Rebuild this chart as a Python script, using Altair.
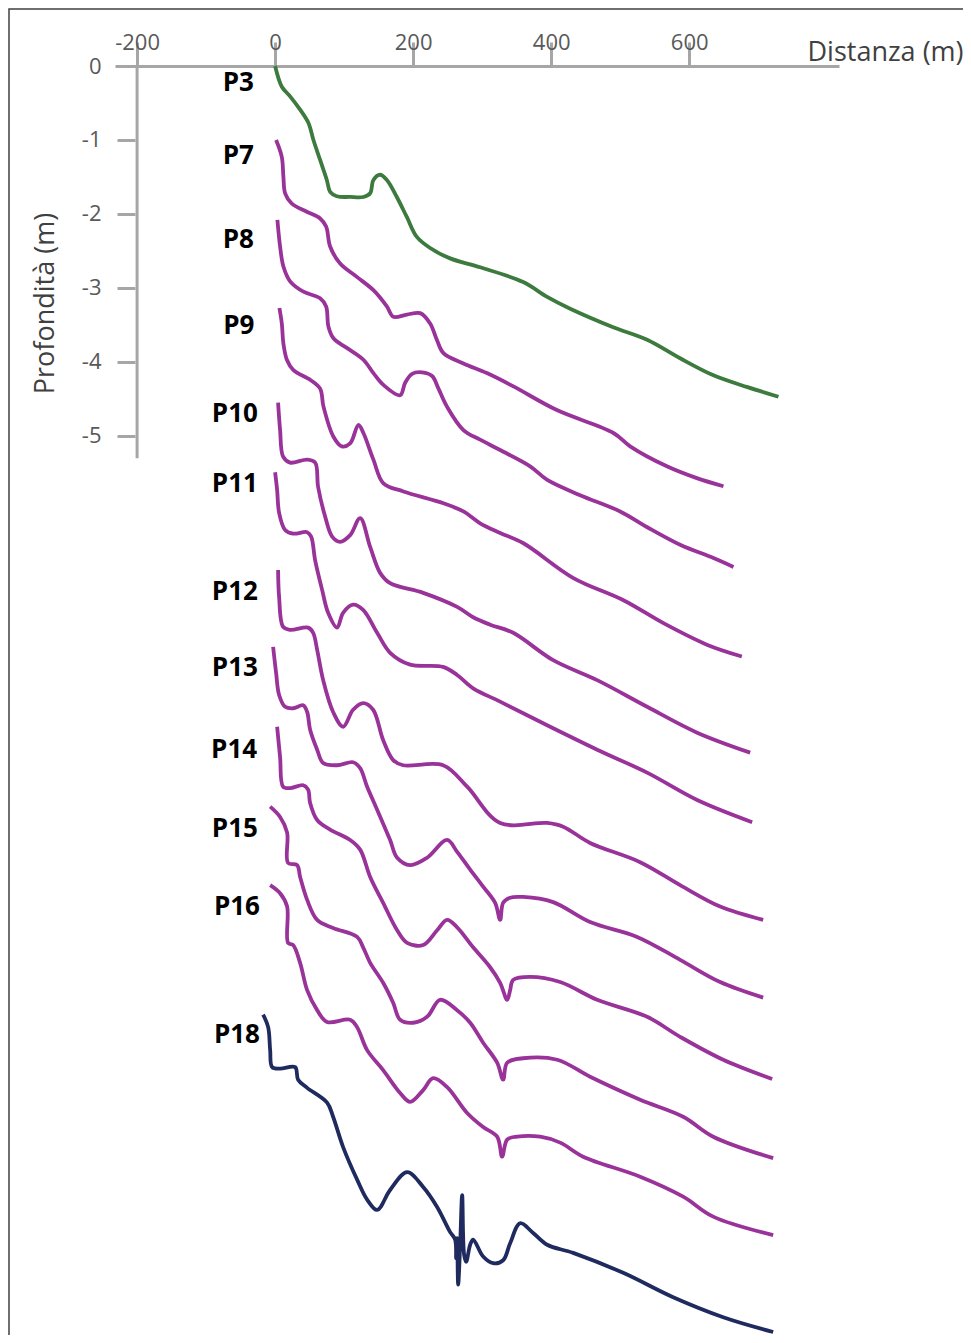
import altair as alt
import pandas as pd

# ---------------- data (distance in m, depth in m) ----------------
P3_x = [0, 9.7, 21.7, 36.2, 48.3, 55.5, 65.2, 74.9, 79.7, 89.4, 108.7, 127.9, 137.7, 142.4, 152.1, 161.9,
        176.3, 190.8, 205.3, 224.6, 253.6, 297.0, 359.4, 394.1, 427.5, 489.8, 539.0, 586.8, 635.1, 684.4, 729.3]
P3_d = [0, -0.28, -0.41, -0.59, -0.77, -1.00, -1.27, -1.54, -1.70, -1.76, -1.77, -1.77, -1.72, -1.54, -1.47, -1.54,
        -1.77, -2.04, -2.31, -2.46, -2.60, -2.72, -2.92, -3.12, -3.28, -3.53, -3.70, -3.95, -4.18, -4.34, -4.47]

P7_x = [1.4, 9.7, 12.0, 14.5, 24.2, 45.9, 65.2, 73.9, 79.7, 94.2, 118.4, 142.4, 161.9, 171.4, 190.8, 210.1,
        224.6, 234.3, 243.9, 272.8, 306.8, 345.3, 408.2, 490.2, 514.4, 567.6, 611.0, 649.6]
P7_d = [-1.00, -1.23, -1.50, -1.72, -1.86, -1.97, -2.06, -2.17, -2.44, -2.67, -2.85, -3.03, -3.25, -3.39, -3.36, -3.34,
        -3.48, -3.70, -3.88, -4.02, -4.15, -4.33, -4.65, -4.96, -5.14, -5.41, -5.57, -5.68]

P8_x = [3.3, 7.2, 12.0, 21.7, 41.0, 65.2, 73.9, 77.2, 84.5, 103.9, 127.9, 142.4, 156.9, 181.1, 188.4, 198.5,
        213.0, 227.5, 236.2, 248.8, 272.8, 297.0, 326.0, 369.5, 393.7, 441.9, 499.9, 538.6, 586.8, 635.1, 664.1]
P8_d = [-2.08, -2.44, -2.71, -2.91, -3.05, -3.14, -3.25, -3.52, -3.68, -3.81, -3.97, -4.15, -4.31, -4.45, -4.28, -4.16,
        -4.14, -4.19, -4.35, -4.60, -4.92, -5.05, -5.19, -5.41, -5.59, -5.80, -6.02, -6.23, -6.47, -6.65, -6.77]

P9_x = [6.2, 9.7, 12.0, 17.0, 26.5, 50.7, 65.2, 70.0, 84.5, 96.6, 108.7, 120.7, 127.9, 142.4, 156.9, 185.9,
        243.9, 272.8, 297.0, 326.0, 359.8, 432.2, 504.7, 562.6, 625.5, 676.2]
P9_d = [-3.27, -3.48, -3.75, -3.97, -4.11, -4.24, -4.36, -4.60, -5.01, -5.14, -5.10, -4.85, -4.96, -5.32, -5.64, -5.75,
        -5.91, -6.02, -6.18, -6.31, -6.45, -6.92, -7.22, -7.53, -7.82, -7.98]

P10_x = [4.3, 7.2, 11.6, 21.7, 46.4, 58.0, 62.3, 72.5, 82.6, 94.2, 108.7, 123.2, 137.7, 152.1, 166.6, 214.5,
         263.7, 286.9, 311.5, 344.9, 402.8, 466.6, 539.0, 611.5, 688.3]
P10_d = [-4.55, -4.92, -5.28, -5.36, -5.32, -5.36, -5.69, -6.09, -6.36, -6.43, -6.34, -6.11, -6.50, -6.85, -6.99, -7.12,
         -7.31, -7.45, -7.55, -7.66, -8.03, -8.30, -8.66, -9.01, -9.28]

P11_x = [0, 2.9, 5.8, 14.5, 26.1, 46.4, 52.2, 58.0, 68.1, 76.8, 89.8, 98.5, 113.0, 127.5, 147.8, 166.6,
         195.6, 243.4, 263.7, 286.9, 326.0, 394.1, 466.6, 539.0, 611.5, 691.2]
P11_d = [-5.49, -5.73, -6.04, -6.27, -6.32, -6.30, -6.36, -6.68, -7.08, -7.39, -7.59, -7.39, -7.28, -7.35, -7.66, -7.93,
         -8.09, -8.12, -8.23, -8.41, -8.59, -8.91, -9.24, -9.55, -9.92, -10.22]

P12_x = [4.3, 5.8, 11.6, 21.7, 47.8, 55.1, 60.9, 69.6, 84.0, 98.5, 113.0, 127.5, 142.0, 156.5, 171.0, 185.5,
         243.4, 278.2, 326.0, 394.1, 417.3, 456.4, 528.9, 586.8, 644.8, 707.1]
P12_d = [-6.81, -7.18, -7.58, -7.62, -7.59, -7.66, -7.89, -8.30, -8.73, -8.93, -8.70, -8.61, -8.70, -9.11, -9.38, -9.45,
         -9.45, -9.74, -10.23, -10.23, -10.28, -10.50, -10.76, -11.07, -11.36, -11.54]

P13_x = [-2.9, 1.4, 5.8, 14.5, 26.1, 40.6, 46.4, 50.7, 60.9, 69.6, 89.8, 113.0, 123.2, 133.3, 147.8, 166.6,
         176.8, 195.6, 220.2, 249.2, 263.7, 282.6, 301.4, 318.8, 326.0, 330.4, 340.5, 359.4, 402.8, 456.4,
         524.5, 586.8, 644.8, 707.1]
P13_d = [-7.85, -8.20, -8.50, -8.66, -8.68, -8.64, -8.73, -8.97, -9.24, -9.42, -9.45, -9.41, -9.49, -9.74, -10.05, -10.46,
         -10.70, -10.80, -10.70, -10.46, -10.62, -10.86, -11.09, -11.31, -11.54, -11.31, -11.24, -11.23, -11.30, -11.57,
         -11.77, -12.08, -12.38, -12.59]

P14_x = [2.9, 7.2, 11.6, 21.7, 40.6, 47.8, 50.7, 60.9, 79.7, 108.7, 123.2, 137.7, 156.5, 176.8, 191.3, 214.5,
         234.7, 249.2, 263.7, 286.9, 311.5, 326.0, 336.2, 340.5, 344.9, 369.5, 413.0, 466.6, 539.0, 586.8,
         649.2, 720.2]
P14_d = [-8.93, -9.34, -9.74, -9.76, -9.72, -9.78, -9.96, -10.19, -10.32, -10.46, -10.59, -10.96, -11.31, -11.68, -11.85, -11.88,
         -11.68, -11.54, -11.64, -11.91, -12.18, -12.39, -12.62, -12.49, -12.35, -12.31, -12.38, -12.62, -12.85, -13.12,
         -13.43, -13.69]

P15_x = [-7.2, 7.2, 17.4, 18.8, 31.9, 36.2, 46.4, 60.9, 84.0, 118.8, 127.5, 137.7, 156.5, 171.0, 181.1, 200.0,
         220.2, 239.1, 263.7, 282.6, 301.4, 321.7, 330.4, 336.2, 359.4, 408.6, 456.4, 528.9, 591.2, 634.7, 721.6]
P15_d = [-10.01, -10.15, -10.36, -10.77, -10.80, -10.96, -11.27, -11.54, -11.65, -11.77, -11.91, -12.12, -12.39, -12.66, -12.89, -12.93,
         -12.85, -12.62, -12.76, -12.93, -13.20, -13.47, -13.70, -13.47, -13.41, -13.43, -13.66, -13.97, -14.20, -14.47, -14.76]

P16_x = [-7.2, 7.2, 17.4, 18.8, 26.1, 36.2, 46.4, 60.9, 75.3, 108.7, 118.8, 133.3, 156.5, 181.1, 195.6, 214.5,
         228.9, 249.2, 278.2, 301.4, 321.7, 328.9, 336.2, 350.7, 384.0, 413.0, 446.3, 528.9, 591.2, 634.7, 721.6]
P16_d = [-11.07, -11.18, -11.36, -11.85, -11.88, -12.12, -12.49, -12.76, -12.92, -12.89, -12.99, -13.30, -13.57, -13.88, -14.00, -13.84,
         -13.68, -13.80, -14.15, -14.34, -14.47, -14.74, -14.51, -14.47, -14.47, -14.55, -14.74, -15.01, -15.28, -15.55, -15.80]

P18_x = [-17.4, -10.1, -7.2, -4.3, 7.2, 29.0, 33.3, 46.4, 75.3, 84.0, 98.5, 118.8, 133.3, 147.8, 166.6, 191.3,
         214.5, 234.7, 253.6, 260.8, 262.3, 263.7, 265.2, 268.1, 271.0, 273.9, 276.8, 282.6, 286.9, 301.4, 315.9,
         330.4, 340.5, 355.0, 373.8, 394.1, 431.8, 504.3, 576.7, 649.2, 721.6]
P18_d = [-12.82, -12.99, -13.30, -13.53, -13.55, -13.53, -13.70, -13.81, -14.01, -14.20, -14.61, -15.05, -15.32, -15.46, -15.19, -14.95,
         -15.15, -15.42, -15.76, -15.86, -16.11, -15.84, -16.47, -15.93, -15.26, -16.07, -16.16, -15.93, -15.86, -16.09, -16.18,
         -16.14, -15.91, -15.64, -15.77, -15.93, -16.04, -16.31, -16.64, -16.91, -17.11]

profiles = ["P3", "P7", "P8", "P9", "P10", "P11", "P12", "P13", "P14", "P15", "P16", "P18"]
profile_colors = ["#3c7a3e", "#993399", "#993399", "#993399", "#993399", "#993399",
                  "#993399", "#993399", "#993399", "#993399", "#993399", "#1f2b5e"]

label_x = [-30.8, -30.8, -30.8, -30.0, -25.0, -25.0, -25.0, -25.0, -26.0, -25.0, -22.0, -22.0]
label_d = [-0.23, -1.21, -2.35, -3.52, -4.70, -5.65, -7.11, -8.14, -9.24, -10.31, -11.37, -13.10]

x_ticks = [-200, 0, 200, 400, 600]
y_ticks = [0, -1, -2, -3, -4, -5]
y_axis_x = [-200]
y_axis_top = [0]
y_axis_bottom = [-5.30]

series = {
    "P3": (P3_x, P3_d), "P7": (P7_x, P7_d), "P8": (P8_x, P8_d), "P9": (P9_x, P9_d),
    "P10": (P10_x, P10_d), "P11": (P11_x, P11_d), "P12": (P12_x, P12_d), "P13": (P13_x, P13_d),
    "P14": (P14_x, P14_d), "P15": (P15_x, P15_d), "P16": (P16_x, P16_d), "P18": (P18_x, P18_d),
}

rows = []
for name in profiles:
    xs, ds = series[name]
    for i, (xv, dv) in enumerate(zip(xs, ds)):
        rows.append({"profile": name, "x": xv, "d": dv, "i": i})
df = pd.DataFrame(rows)

labels_df = pd.DataFrame({"profile": profiles, "x": label_x, "d": label_d})
yaxis_df = pd.DataFrame({"x": y_axis_x, "d0": y_axis_top, "d1": y_axis_bottom})
frame_df = pd.DataFrame({"k": [0]})

AX_GREY = "#a6a6a6"
FONT = "Open Sans"
LABEL_EXPR = "datum.value < 0 ? '-' + format(-datum.value, 'd') : format(datum.value, 'd')"

xscale = alt.Scale(domain=[-232, 817], nice=False, zero=False)
yscale = alt.Scale(domain=[-17.15, 0], nice=False, zero=False)

x_axis = alt.Axis(
    orient="top", values=x_ticks, grid=False,
    domain=True, domainColor=AX_GREY, domainWidth=3,
    ticks=True, tickColor=AX_GREY, tickWidth=3, tickSize=24,
    labelFont=FONT, labelFontSize=22, labelColor="#595959", labelExpr=LABEL_EXPR,
    labelBaseline="alphabetic", labelPadding=-7, labelFlush=False, labelOverlap=False,
    title="Distanza (m)", titleFont=FONT, titleFontSize=27, titleFontWeight="normal",
    titleColor="#404040", titleX=692, titleY=-6, titleAlign="left",
    titleBaseline="alphabetic", titleAngle=0,
)
y_axis = alt.Axis(
    values=y_ticks, grid=False, domain=False, offset=-20,
    ticks=True, tickColor=AX_GREY, tickWidth=3, tickSize=18,
    labelFont=FONT, labelFontSize=22, labelColor="#595959", labelPadding=16, labelExpr=LABEL_EXPR,
    labelFlush=False, labelOverlap=False,
    title="Profondità (m)", titleFont=FONT, titleFontSize=27, titleFontWeight="normal",
    titleColor="#404040", titleX=-90, titleY=237, titleAngle=-90,
    titleAlign="center", titleBaseline="middle",
)

frame = alt.Chart(frame_df).mark_rect(
    fillOpacity=0, stroke="#404040", strokeWidth=1.5, clip=False
).encode(
    x=alt.value(-106), x2=alt.value(900), y=alt.value(-57), y2=alt.value(1400)
)

yline = alt.Chart(yaxis_df).mark_rule(color=AX_GREY, strokeWidth=3).encode(
    x=alt.X("x:Q", scale=xscale, axis=x_axis),
    y=alt.Y("d0:Q", scale=yscale, axis=y_axis),
    y2="d1:Q",
)

lines = alt.Chart(df).mark_line(interpolate="catmull-rom", strokeWidth=3.8).encode(
    x=alt.X("x:Q", scale=xscale, axis=x_axis),
    y=alt.Y("d:Q", scale=yscale, axis=y_axis),
    color=alt.Color("profile:N", scale=alt.Scale(domain=profiles, range=profile_colors), legend=None),
    order=alt.Order("i:Q"),
)

texts = alt.Chart(labels_df).mark_text(
    align="right", baseline="middle", font=FONT, fontSize=26, fontWeight="bold", color="#000000"
).encode(
    x=alt.X("x:Q", scale=xscale),
    y=alt.Y("d:Q", scale=yscale),
    text="profile:N",
)

chart = alt.layer(frame, yline, lines, texts).properties(
    width=724, height=1269,
    autosize=alt.AutoSizeParams(type="none"),
    padding={"left": 107, "top": 58, "right": 124, "bottom": 0},
    background="white",
).configure_view(strokeWidth=0)

chart.save("out.html", embed_options={"renderer": "svg", "actions": False})
